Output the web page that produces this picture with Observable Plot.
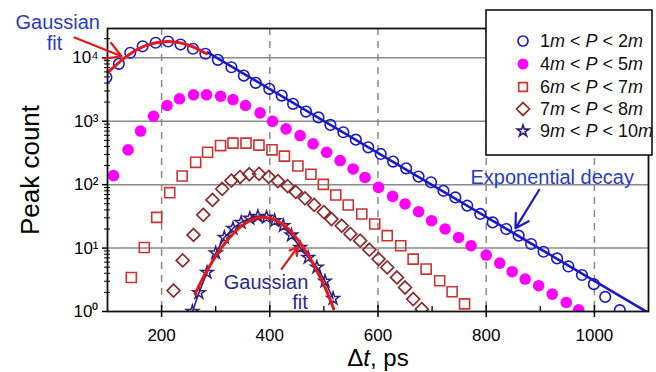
<!DOCTYPE html>
<html><head><meta charset="utf-8">
<script src="https://cdn.jsdelivr.net/npm/d3@7"></script>
<script src="https://cdn.jsdelivr.net/npm/@observablehq/plot@0.6"></script>
<style>
body{margin:0;background:#fff;}
#chart{position:relative;width:656px;height:372px;}
svg{font-family:"Liberation Sans",Arial,sans-serif;}
</style></head><body><div id="chart"></div>
<script>
// ---- data ----
// 1m < P < 2m (blue open circles)
const x1 = [98,121,142,165,189,212,235,258,281,304,329,352,374,399,422,443,467,490,512,536,559,582,605,628,652,675,698,721,743,765,789,812,837,860,883,906,931,952,977,999,1020,1047];
const y1 = [4940,8040,12000,15200,17300,18100,16200,13900,11600,9300,7100,5250,4030,3240,2540,1880,1420,1150,875,670,513,388,305,231,181,134,109,80,63,46.6,34.5,25.4,20,15.7,11.6,8.75,6.87,5.13,3.76,2.7,1.7,1.05];
// 4m < P < 5m (magenta dots)
const x2 = [111,138,161,185,210,233,259,283,309,332,355,382,405,430,456,480,505,530,554,576,601,627,650,675,699,724,749,772,800,825,848,872,897,922,948,971];
const y2 = [139,354,700,1200,1770,2260,2610,2610,2480,2200,1770,1355,998,757,593,439,324,239,177,130,90.6,65.3,49.6,37.5,27,20,14.7,10.9,7.77,5.8,4.24,3.25,2.55,1.88,1.39,1.06];
// 6m < P < 7m (red squares)
const x3 = [144,168,191,215,238,263,285,309,332,356,380,404,427,452,476,499,522,545,570,594,617,642,665,689,714,737,760];
const y3 = [3.44,10.2,30.5,74.8,137,225,324,413,452,452,420,354,282,197,146,101,68.8,47.8,34.5,24,15.7,10.9,6.7,4.67,3.05,2.05,1.32];
// 7m < P < 8m (brown diamonds)
const x4 = [222,239,259,277,294,312,329,345,362,380,398,415,433,448,465,482,500,514,533,549,567,584,601,617,635,650,665,681];
const y4 = [2.14,6.38,16.1,33.4,57.5,85.5,116,132,146,148,133,114,94.6,76.7,60.8,48,37,28.7,22.5,16.7,13.1,9.42,6.71,4.95,3.44,2.39,1.57,1.09];
// 9m < P < 10m (stars)
const x5 = [257,269,284,300,316,332,347,363,378,394,409,425,440,456,471,487,502,517];
const y5 = [1.0,1.97,4.13,8.35,14.7,20.4,25.4,29.4,31.6,30.5,27,22.5,16,10.2,7.1,5.0,3.0,1.6];
// Gaussian fits (red) and exponential decay (blue line)
const gx1 = [100,115,130,145,160,175,190,205,220,235,250,265,283];
const gy1 = [5800,7600,9700,12000,14200,16000,17300,18000,18000,17200,15800,14000,11600];
const gx2 = [262,275,290,305,320,335,350,365,384,400,415,430,445,460,475,490,505,518];
const gy2 = [1.9,3.2,5.4,8.6,12.8,17.8,23,27.6,30.5,29.5,26.3,21.5,16,10.8,6.8,3.9,2.1,1.1];
const ex = [285,1100];
const ey = [12200,0.95];

const seriesNames = ["1|m| < |P| < 2|m", "4|m| < |P| < 5|m", "6|m| < |P| < 7|m", "7|m| < |P| < 8|m", "9|m| < |P| < 10|m"];
const xTicks = [200,400,600,800,1000];
const xMinor = [300,500,700,900];
const yTicks = [1,10,100,1000,10000];
const yTickLabels = ["10\u2070","10\u00b9","10\u00b2","10\u00b3","10\u2074"];

// annotations
const annText = ["Gaussian","fit","Exponential decay","Gaussian","fit"];
const annX = [8,2,922,393,456];
const annY = [36000,16800,129,2.84,1.37];
const annColor = ["#2b3bc2","#2b3bc2","#2b3bc2","#2a2a88","#2a2a88"];
const arrX1 = [39,898,422], arrY1 = [20900,83,4.7];
const arrX2 = [126,854,452], arrY2 = [10600,20.5,10.5];
const arrColor = ["#e41a1a","#1a1ac8","#e41a1a"];

// ---- build ----
const pts = (xs, ys) => xs.map((x, i) => ({x, y: ys[i]}));
const s1 = pts(x1,y1), s2 = pts(x2,y2), s3 = pts(x3,y3), s4 = pts(x4,y4), s5 = pts(x5,y5);
const g1 = pts(gx1,gy1), g2 = pts(gx2,gy2), e1 = pts(ex,ey);
const ann = annText.map((t,i)=>({t, x: annX[i], y: annY[i], c: annColor[i]}));
const arrows = arrX1.map((x,i)=>({x1: x, y1: arrY1[i], x2: arrX2[i], y2: arrY2[i], c: arrColor[i]}));
const yLabelMap = new Map(yTicks.map((d,i)=>[d, yTickLabels[i]]));
const yMinor = [];
for (const dec of [1,10,100,1000,10000]) for (let k=2;k<=9;k++) if (dec*k < 29000) yMinor.push(dec*k);

const BLUE="#1a1ac8", MAG="#ff00ff", RED="#cc3333", BROWN="#8b2a2a", NAVY="#33207a", FIT="#e41a1a";

const chart = Plot.plot({
  width: 656, height: 372,
  marginLeft: 107, marginRight: 8, marginTop: 28, marginBottom: 61,
  style: {fontFamily: "Liberation Sans, Arial, sans-serif", background: "white", overflow: "visible", color: "black"},
  x: {domain: [100, 1100]},
  y: {type: "log", domain: [1, 29000]},
  marks: [
    Plot.ruleY([10,100,1000,10000], {stroke: "#8a8a8a", strokeWidth: 1.5, strokeOpacity: 1}),
    Plot.ruleX(xTicks, {stroke: "#8a8a8a", strokeWidth: 1.5, strokeDasharray: "7,6", strokeOpacity: 1}),
    Plot.axisX({ticks: xTicks, tickFormat: d => String(d), tickSize: 6, tickPadding: 11, fontSize: 17, label: null, strokeWidth: 1.5}),
    Plot.axisX({ticks: xTicks, tickFormat: () => "", tickSize: -6, label: null, strokeWidth: 1.5}),
    Plot.axisX({ticks: xMinor, tickFormat: () => "", tickSize: -5, label: null, strokeWidth: 1.3}),
    Plot.axisY({ticks: yTicks, tickFormat: d => yLabelMap.get(d), tickSize: 5, tickPadding: 4, fontSize: 17, label: null, strokeWidth: 1.5}),
    Plot.axisY({ticks: yMinor, tickFormat: () => "", tickSize: 3, label: null, strokeWidth: 1}),
    Plot.axisY({ticks: yMinor, tickFormat: () => "", tickSize: -3, label: null, strokeWidth: 1}),
    Plot.dot(s1, {x: "x", y: "y", symbol: "circle", r: 5.3, stroke: BLUE, strokeWidth: 1.6, fill: "none", clip: true}),
    Plot.dot(s2, {x: "x", y: "y", symbol: "circle", r: 5.8, fill: MAG, stroke: "none", clip: true}),
    Plot.dot(s3, {x: "x", y: "y", symbol: "square2", r: 6.4, stroke: RED, strokeWidth: 1.6, fill: "none", clip: true}),
    Plot.dot(s4, {x: "x", y: "y", symbol: "diamond2", r: 5.8, stroke: BROWN, strokeWidth: 1.7, fill: "none", clip: true}),
    Plot.line(s5, {x: "x", y: "y", stroke: NAVY, strokeWidth: 1.6, clip: true}),
    Plot.dot(s5, {x: "x", y: "y", symbol: "star", r: 3.9, stroke: NAVY, strokeWidth: 1.5, fill: "none", clip: true}),
    Plot.line(e1, {x: "x", y: "y", stroke: BLUE, strokeWidth: 2.6, clip: true}),
    Plot.line(g1, {x: "x", y: "y", stroke: FIT, strokeWidth: 3, curve: "natural", clip: true}),
    Plot.line(g2, {x: "x", y: "y", stroke: FIT, strokeWidth: 3, curve: "natural", clip: true}),
    Plot.frame({stroke: "#111", strokeWidth: 1.8}),
    Plot.text(ann, {x: "x", y: "y", text: "t", fill: "c", fontSize: 20, textAnchor: "middle", clip: false}),
    Plot.arrow(arrows, {x1: "x1", y1: "y1", x2: "x2", y2: "y2", stroke: "c", strokeWidth: 2.2, headLength: 12, clip: false})
  ]
});
document.getElementById("chart").appendChild(chart);

const svg = d3.select(chart);
// axis titles
svg.append("text").attr("transform", "translate(39,170) rotate(-90)").attr("text-anchor","middle")
  .attr("font-size", 26).attr("fill","black").text("Peak count");
const xt = svg.append("text").attr("x", 378).attr("y", 366).attr("text-anchor","middle").attr("font-size", 24).attr("fill","black");
xt.append("tspan").text("\u0394");
xt.append("tspan").attr("font-style","italic").text("t");
xt.append("tspan").text(", ps");

// legend
const lg = svg.append("g").attr("text-anchor","start");
lg.append("rect").attr("x", 486).attr("y", 10).attr("width", 166).attr("height", 145)
  .attr("fill","white").attr("stroke","#111").attr("stroke-width",1.6);
const rows = [41,64,87,109,131];
const legSym = [
  {sym: d3.symbolCircle, size: Math.PI*5*5, fill: "none", stroke: BLUE},
  {sym: d3.symbolCircle, size: Math.PI*5.5*5.5, fill: MAG, stroke: "none"},
  {sym: d3.symbolSquare2, size: Math.PI*5.5*5.5, fill: "none", stroke: RED},
  {sym: d3.symbolDiamond2, size: Math.PI*5.8*5.8, fill: "none", stroke: BROWN},
  {sym: d3.symbolStar, size: Math.PI*3.6*3.6, fill: "none", stroke: NAVY}
];
seriesNames.forEach((name, i) => {
  const s = legSym[i];
  lg.append("path").attr("d", d3.symbol(s.sym, s.size)()).attr("transform", `translate(523,${rows[i]})`)
    .attr("fill", s.fill).attr("stroke", s.stroke).attr("stroke-width", 1.7);
  const t = lg.append("text").attr("x", 540).attr("y", rows[i]).attr("dy","0.35em").attr("text-anchor","start")
    .attr("font-size", 18).attr("fill","#111");
  name.split("|").forEach((part, j) => {
    t.append("tspan").attr("font-style", j % 2 === 1 ? "italic" : "normal").text(part);
  });
});
</script></body></html>
